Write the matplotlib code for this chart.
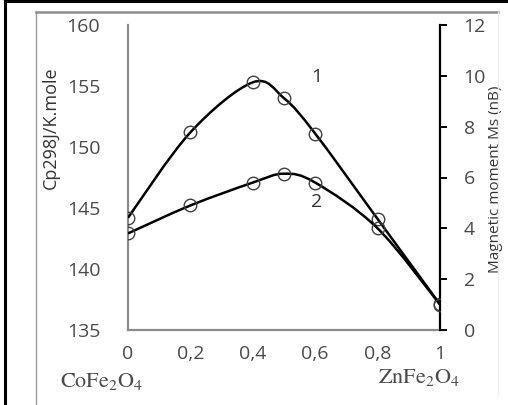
import numpy as np
import matplotlib
matplotlib.use("Agg")
import matplotlib.pyplot as plt
from matplotlib.path import Path
from matplotlib.patches import PathPatch
from matplotlib.lines import Line2D

# composition x (Zn content)
x = [0, 0.2, 0.4, 0.5, 0.6, 0.8, 1]
# curve 1: heat capacity Cp298 (left axis)
cp = [144.2, 151.2, 155.3, 154.0, 151.1, 144.1, 137.1]
# curve 2: magnetic moment Ms (right axis)
ms = [3.8, 4.9, 5.8, 6.15, 5.8, 4.0, 1.0]

xticks = [0, 0.2, 0.4, 0.6, 0.8, 1]
xtick_labels = ["0", "0,2", "0,4", "0,6", "0,8", "1"]
left_ticks = [135, 140, 145, 150, 155, 160]
right_ticks = [0, 2, 4, 6, 8, 10, 12]

plt.rcParams['font.family'] = ['Open Sans', 'DejaVu Sans']
plt.rcParams['mathtext.fontset'] = 'stix'
txt_col = '#4a4a4a'


def smooth_path(xs, ys):
    # excel-like smoothed line (catmull-rom bezier through the points)
    pts = np.column_stack([xs, ys]).astype(float)
    verts = [pts[0]]
    codes = [Path.MOVETO]
    n = len(pts)
    for i in range(n - 1):
        p0 = pts[i - 1] if i > 0 else pts[i]
        p1 = pts[i]
        p2 = pts[i + 1]
        p3 = pts[i + 2] if i + 2 < n else pts[i + 1]
        c1 = p1 + (p2 - p0) / 6.0
        c2 = p2 - (p3 - p1) / 6.0
        verts += [c1, c2, p2]
        codes += [Path.CURVE4] * 3
    return Path(verts, codes)


fig = plt.figure(figsize=(5.08, 4.05), dpi=100)
ax = fig.add_axes([128 / 508, 75 / 405, 312 / 508, 305 / 405])
ax2 = ax.twinx()

ax.set_xlim(0, 1)
ax.set_ylim(135, 160)
ax2.set_ylim(0, 12)

ax.add_patch(PathPatch(smooth_path(x, cp), fill=False, color='black', lw=1.8, zorder=3))
ax2.add_patch(PathPatch(smooth_path(x, ms), fill=False, color='black', lw=1.8, zorder=3))
ax.plot(x, cp, 'o', ms=9, mfc='none', mec='#404040', mew=1.0, zorder=4)
ax2.plot(x, ms, 'o', ms=9, mfc='none', mec='#404040', mew=1.0, zorder=4)

# spines
for a in (ax, ax2):
    a.spines['top'].set_visible(False)
ax.spines['right'].set_visible(False)
ax2.spines['left'].set_visible(False)
ax2.spines['bottom'].set_visible(False)
ax.spines['left'].set_color('#8c8c8c')
ax.spines['left'].set_linewidth(1.6)
ax.spines['bottom'].set_color('#8c8c8c')
ax.spines['bottom'].set_linewidth(1.6)
ax2.spines['right'].set_color('black')
ax2.spines['right'].set_linewidth(1.6)

ax.set_xticks(xticks)
ax.set_xticklabels(xtick_labels)
ax.set_yticks(left_ticks)
ax2.set_yticks(right_ticks)
ax.tick_params(axis='x', length=0, pad=11, labelsize=14, labelcolor=txt_col)
ax.tick_params(axis='y', length=0, pad=20, labelsize=14, labelcolor=txt_col)
ax2.tick_params(axis='y', direction='out', length=5, width=1.4, color='black',
                pad=12, labelsize=14, labelcolor=txt_col)

ax.set_ylabel('Cp298J/K.mole', fontsize=13, color='#333333')
ax.yaxis.set_label_coords(-68 / 312, (330 - 128) / 305)
ax2.set_ylabel('Magnetic moment Ms (nB)', fontsize=11, color='#333333')
ax2.yaxis.set_label_coords((488 - 128) / 312, (330 - 179) / 305)

# curve numbers
ax.text(0.606, 155.7, '1', fontsize=14, color='#333333', ha='center', va='center')
ax.text(0.605, 145.5, '2', fontsize=14, color='#333333', ha='center', va='center')

# end-member names
fig.text(102 / 508, 1 - 381 / 405, r'$\mathrm{CoFe_2O_4}$', fontsize=16,
         color='#4a4a4a', ha='center', va='center')
fig.text(419 / 508, 1 - 378 / 405, r'$\mathrm{ZnFe_2O_4}$', fontsize=16,
         color='#4a4a4a', ha='center', va='center')

# page frame around the figure
W, H = 508, 405
fig.add_artist(Line2D([5 / W, 5 / W], [0, 1], color='black', lw=2.2, transform=fig.transFigure))
fig.add_artist(Line2D([5 / W, 1], [1 - 1 / H, 1 - 1 / H], color='black', lw=2.2, transform=fig.transFigure))
fig.add_artist(Line2D([36 / W, 36 / W], [0, 1 - 12 / H], color='#9a9a9a', lw=1.0, transform=fig.transFigure))
fig.add_artist(Line2D([36 / W, 498 / W], [1 - 12 / H, 1 - 12 / H], color='#8c8c8c', lw=1.8, transform=fig.transFigure))
fig.add_artist(Line2D([498 / W, 498 / W], [1 - 395 / H, 1 - 12 / H], color='#eeeeee', lw=1.0, transform=fig.transFigure))

fig.savefig('out.png', dpi=100)
